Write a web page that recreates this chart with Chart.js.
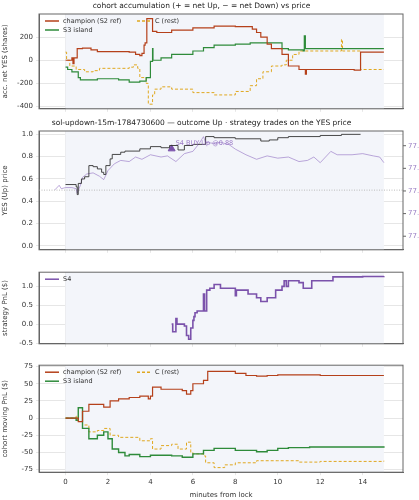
<!DOCTYPE html>
<html><head><meta charset="utf-8">
<script src="https://cdn.jsdelivr.net/npm/chart.js@4"></script>
<style>html,body{margin:0;background:#fff;width:419px;height:500px;overflow:hidden}body{position:relative}
.p{position:absolute;left:0;width:419px}</style></head><body>
<div class="p" style="top:0;height:116px"><canvas id="c1"></canvas></div>
<div class="p" style="top:117px;height:140px"><canvas id="c2"></canvas></div>
<div class="p" style="top:265px;height:86px"><canvas id="c3"></canvas></div>
<div class="p" style="top:358px;height:142px"><canvas id="c4"></canvas></div>
<script>
// panel 1: accumulation (shares)
const acc_champion=[[0,0],[0.3,20],[0.35,-30],[0.4,20],[0.55,100],[0.8,105],[1.2,90],[1.5,75],[3.0,70],[3.3,50],[3.5,40],[3.6,60],[3.7,130],[3.75,150],[3.83,360],[4.1,250],[4.3,240],[5,260],[6,280],[7,295],[8,290],[8.8,270],[9.0,240],[9.2,200],[9.5,140],[9.7,100],[10.2,50],[10.5,-50],[11,-80],[11.3,-120],[11.35,-80],[13.6,-85],[13.9,70],[15,70]];
const acc_s3=[[0,-60],[0.1,-80],[0.3,-100],[0.6,-150],[0.7,-170],[1.5,-160],[2.5,-170],[3.0,-190],[3.5,-180],[3.8,-150],[4.0,-10],[4.1,100],[4.12,0],[4.5,20],[5,50],[6,80],[6.5,110],[7,130],[8,140],[8.7,150],[9.2,150],[10.2,100],[10.5,90],[11.2,80],[11.25,210],[11.3,100],[15,100]];
const acc_c=[[0,70],[0.05,0],[0.2,-50],[0.5,-80],[0.9,-100],[1.3,-90],[1.6,-70],[2.5,-70],[3.0,-60],[3.2,-40],[3.4,-70],[3.5,-150],[3.8,-200],[3.9,-380],[4.1,-300],[4.2,-250],[4.5,-230],[5.0,-250],[6,-280],[7,-300],[8,-270],[8.7,-220],[9.0,-160],[9.3,-100],[9.7,-50],[10.2,-40],[10.4,0],[10.7,50],[11.0,80],[13.0,180],[13.05,80],[13.9,-80],[15,-80]];
// panel 2: YES price and SOL/USD
const yes_price=[[0,0.55],[0.5,0.53],[0.55,0.46],[0.6,0.56],[0.75,0.6],[0.9,0.62],[1.1,0.72],[1.3,0.71],[1.5,0.69],[1.7,0.66],[1.8,0.64],[1.9,0.72],[2.1,0.78],[2.2,0.82],[2.6,0.84],[2.8,0.85],[3.5,0.87],[4.0,0.89],[4.5,0.88],[4.9,0.9],[5.3,0.86],[5.6,0.9],[6.0,0.91],[6.6,0.98],[7,0.97],[8,0.96],[9.2,0.94],[9.6,0.95],[10,0.97],[10.5,0.98],[12,0.99],[13,1.0],[13.9,1.0]];
const sol_usd=[[-0.5,77.41],[-0.3,77.45],[-0.2,77.42],[0,77.43],[0.3,77.43],[0.5,77.42],[0.55,77.38],[0.7,77.45],[0.8,77.52],[1.0,77.55],[1.3,77.56],[1.6,77.53],[1.8,77.5],[2.0,77.58],[2.3,77.64],[2.6,77.67],[3.0,77.66],[3.3,77.70],[3.6,77.68],[4.0,77.72],[4.5,77.70],[4.8,77.71],[5.2,77.66],[5.6,77.73],[6.0,77.75],[6.3,77.82],[6.5,77.88],[6.6,77.83],[7.0,77.82],[7.3,77.83],[7.7,77.81],[8.0,77.77],[8.5,77.72],[9.0,77.68],[9.5,77.71],[10,77.69],[10.5,77.70],[11.0,77.66],[11.4,77.67],[11.7,77.70],[12.0,77.65],[12.5,77.75],[12.8,77.72],[13.5,77.72],[14,77.73],[14.5,77.71],[14.8,77.7],[15,77.65]];
const s4_trade=[[5.0,0.87]];
const s4_label="S4 BUY Up @0.88";
// panel 3: strategy PnL
const s4_pnl=[[5.0,0],[5.05,-0.2],[5.2,0.15],[5.25,0.0],[5.6,-0.05],[5.7,-0.3],[5.8,-0.4],[5.9,-0.1],[6.0,0.1],[6.05,0.2],[6.1,0.3],[6.2,0.35],[6.5,0.8],[6.55,0.35],[6.65,0.9],[6.8,0.95],[7.0,1.05],[7.3,0.95],[8.0,0.75],[8.05,0.9],[8.6,0.8],[9.0,0.7],[9.2,0.6],[9.5,0.7],[9.9,0.9],[10.2,1.0],[10.3,1.15],[10.4,1.0],[10.5,1.15],[11.0,1.1],[11.2,0.95],[11.6,1.15],[12.6,1.25],[14,1.26],[15,1.27]];
// panel 4: cohort moving PnL
const pnl_champion=[[0,0],[0.6,-5],[0.8,10],[1.1,20],[1.5,20],[1.8,16],[2.1,25],[2.5,28],[3.0,30],[3.5,32],[3.9,28],[4.0,32],[4.1,45],[4.5,42],[5.5,40],[5.7,35],[5.9,40],[6.0,50],[6.5,55],[6.7,68],[8.0,65],[8.5,62],[9.0,61],[9.5,62],[10,63],[11,63],[12,62],[15,62]];
const pnl_s3=[[0,0],[0.5,-3],[0.6,15],[0.8,-15],[1.1,-30],[1.5,-25],[1.8,-20],[2.0,-30],[2.2,-45],[2.5,-50],[2.8,-55],[3.0,-53],[3.5,-56],[4.0,-54],[5.0,-55],[5.5,-57],[6.0,-52],[6.5,-47],[7.0,-44],[8.0,-47],[9.0,-49],[9.5,-47],[10.0,-44],[10.5,-43],[11.5,-42],[15,-41]];
const pnl_c=[[0,0],[0.5,3],[0.6,-5],[0.8,-10],[1.1,-20],[1.5,-18],[1.8,-15],[2.1,-25],[2.5,-28],[3.0,-28],[3.5,-33],[4.0,-30],[4.1,-45],[4.5,-40],[5.0,-38],[5.3,-45],[5.7,-35],[5.9,-50],[6.0,-52],[6.5,-55],[6.6,-65],[7.0,-72],[7.5,-68],[8.0,-65],[9.0,-62],[10.0,-62],[11.0,-64],[12.0,-63],[15,-62]];
const x_ticks=[0,2,4,6,8,10,12,14];
const acc_ticks=[-400,-200,0,200];
const yes_ticks=[0,0.2,0.4,0.6,0.8,1.0];
const sol_ticks=[77.0,77.2,77.4,77.6,77.8];
const s4_ticks=[-0.5,0,0.5,1.0];
const pnl_ticks=[-75,-50,-25,0,25,50,75];

const RED='#b5401a',GREEN='#2e8b3a',GOLD='#e0a820',PURPLE='#7b52ab',LPURPLE='rgba(155,125,200,0.75)',AXP='#9a7fc4';
const F='DejaVu Sans';
Chart.defaults.font.family=F;Chart.defaults.font.size=7;Chart.defaults.color='#333';
const pts=a=>a.map(p=>({x:p[0],y:p[1]}));
const setT=t=>function(s){s.ticks=t.map(v=>({value:v}));};
const frame={id:'frame',beforeDatasetsDraw(c){const a=c.chartArea,x=c.scales.x,g=c.ctx;g.save();g.fillStyle='#f3f5fa';const l=x.getPixelForValue(0),r=x.getPixelForValue(15);g.fillRect(l,a.top,r-l,a.bottom-a.top);
const o=c.options.plugins.frame||{};if(o.hline!==undefined){const y=c.scales.y.getPixelForValue(o.hline);g.strokeStyle='#bbb';g.setLineDash([1,1.5]);g.lineWidth=1;g.beginPath();g.moveTo(a.left,y);g.lineTo(a.right,y);g.stroke();}g.restore();},
afterDatasetsDraw(c){const a=c.chartArea,g=c.ctx;g.save();g.strokeStyle='#666';g.lineWidth=1;g.strokeRect(a.left,a.top,a.right-a.left,a.bottom-a.top);
const o=c.options.plugins.frame||{};if(o.legend){o.legend.forEach((it,i)=>{const col=i<o.rows?0:1,row=i%o.rows;const x0=a.left+6+col*92,y0=a.top+7+row*9;g.strokeStyle=it.c;g.lineWidth=1.5;g.setLineDash(it.d||[]);g.beginPath();g.moveTo(x0,y0);g.lineTo(x0+14,y0);g.stroke();g.setLineDash([]);g.fillStyle='#333';g.font='6.5px '+F;g.textBaseline='middle';g.fillText(it.t,x0+18,y0);});}
if(o.note){const p=c.scales.x.getPixelForValue(o.note[0]),y=c.scales.y.getPixelForValue(o.note[1]);g.fillStyle='rgba(140,100,190,0.85)';g.font='6.5px '+F;g.textBaseline='bottom';g.fillText(o.note[2],p+4,y+1);}
if(o.rightAxis){const s=c.scales.y2;g.font='7px '+F;g.fillStyle=AXP;g.strokeStyle='#666';g.textBaseline='middle';g.textAlign='left';
o.rightAxis.ticks.forEach(v=>{const y=s.getPixelForValue(v);g.beginPath();g.moveTo(a.right,y);g.lineTo(a.right+3,y);g.stroke();g.fillText(v.toFixed(1),a.right+5,y);});
g.save();g.translate(a.right+29,(a.top+a.bottom)/2);g.rotate(Math.PI/2);g.textAlign='center';g.font='6.5px '+F;g.fillText(o.rightAxis.title,0,0);g.restore();}
g.restore();}};
function xs(show){return {type:'linear',min:-1.25,max:15.9,afterBuildTicks:setT(x_ticks),ticks:{display:show,font:{size:7}},grid:{color:'#e6e6e6',tickLength:3},border:{color:'#666'},title:{display:show,text:'minutes from lock',font:{size:7},padding:1}};}
function ys(min,max,tk,label,fmt){return {type:'linear',min,max,afterBuildTicks:setT(tk),ticks:{font:{size:7},callback:fmt||(v=>v)},grid:{color:'#e6e6e6',tickLength:3},border:{color:'#666'},title:{display:true,text:label,font:{size:7},padding:1},afterFit(s){s.width=39;}};}
function ln(d,col,w,dash){return {data:pts(d),borderColor:col,borderWidth:w,borderDash:dash||[],stepped:true,pointRadius:0,fill:false};}
function make(id,datasets,scales,plug,title,padR){return new Chart(document.getElementById(id),{type:'line',data:{datasets},options:{animation:false,responsive:true,maintainAspectRatio:false,layout:{padding:{right:padR,left:0,top:0,bottom:0}},scales,plugins:{legend:{display:false},tooltip:{enabled:false},title:{display:!!title,text:title,font:{size:7.5,weight:'normal'},padding:{top:2,bottom:3},color:'#222'},frame:plug}},plugins:[frame]});}
const leg3=[{t:'champion (S2 ref)',c:RED},{t:'S3 island',c:GREEN},{t:'C (rest)',c:GOLD,d:[3,2]}];
const f1=v=>v.toFixed(1);
make('c1',[ln(acc_champion,RED,1.2),ln(acc_s3,GREEN,1.2),ln(acc_c,GOLD,1,[3,2])],{x:xs(false),y:ys(-420,400,acc_ticks,'acc. net YES (shares)')},{legend:leg3,rows:2},'cohort accumulation (+ = net Up, − = net Down) vs price',16);
make('c2',[ln(yes_price,'#333',0.9),Object.assign(ln(sol_usd,LPURPLE,0.9),{stepped:false,yAxisID:'y2'}),{type:'scatter',data:pts(s4_trade),pointStyle:'triangle',pointRadius:4,backgroundColor:PURPLE,borderColor:PURPLE,showLine:false}],
{x:xs(false),y:ys(-0.035,1.03,yes_ticks,'YES (Up) price',f1),
y2:{display:false,position:'right',min:76.88,max:77.93}},
{hline:0.5,note:[5.0,0.9,s4_label],rightAxis:{ticks:sol_ticks,title:'SOL/USD (strike dotted = YES 0.5)'}},'sol-updown-15m-1784730600 — outcome Up · strategy trades on the YES price',16);
make('c3',[ln(s4_pnl,PURPLE,1.6)],{x:xs(false),y:ys(-0.52,1.375,s4_ticks,'strategy PnL ($)',f1)},{legend:[{t:'S4',c:PURPLE}],rows:1},null,16);
make('c4',[ln(pnl_champion,RED,1.2),ln(pnl_s3,GREEN,1.4),ln(pnl_c,GOLD,1,[3,2])],{x:xs(true),y:ys(-78.7,77,pnl_ticks,'cohort moving PnL ($)')},{legend:leg3,rows:2},null,16);
</script></body></html>
